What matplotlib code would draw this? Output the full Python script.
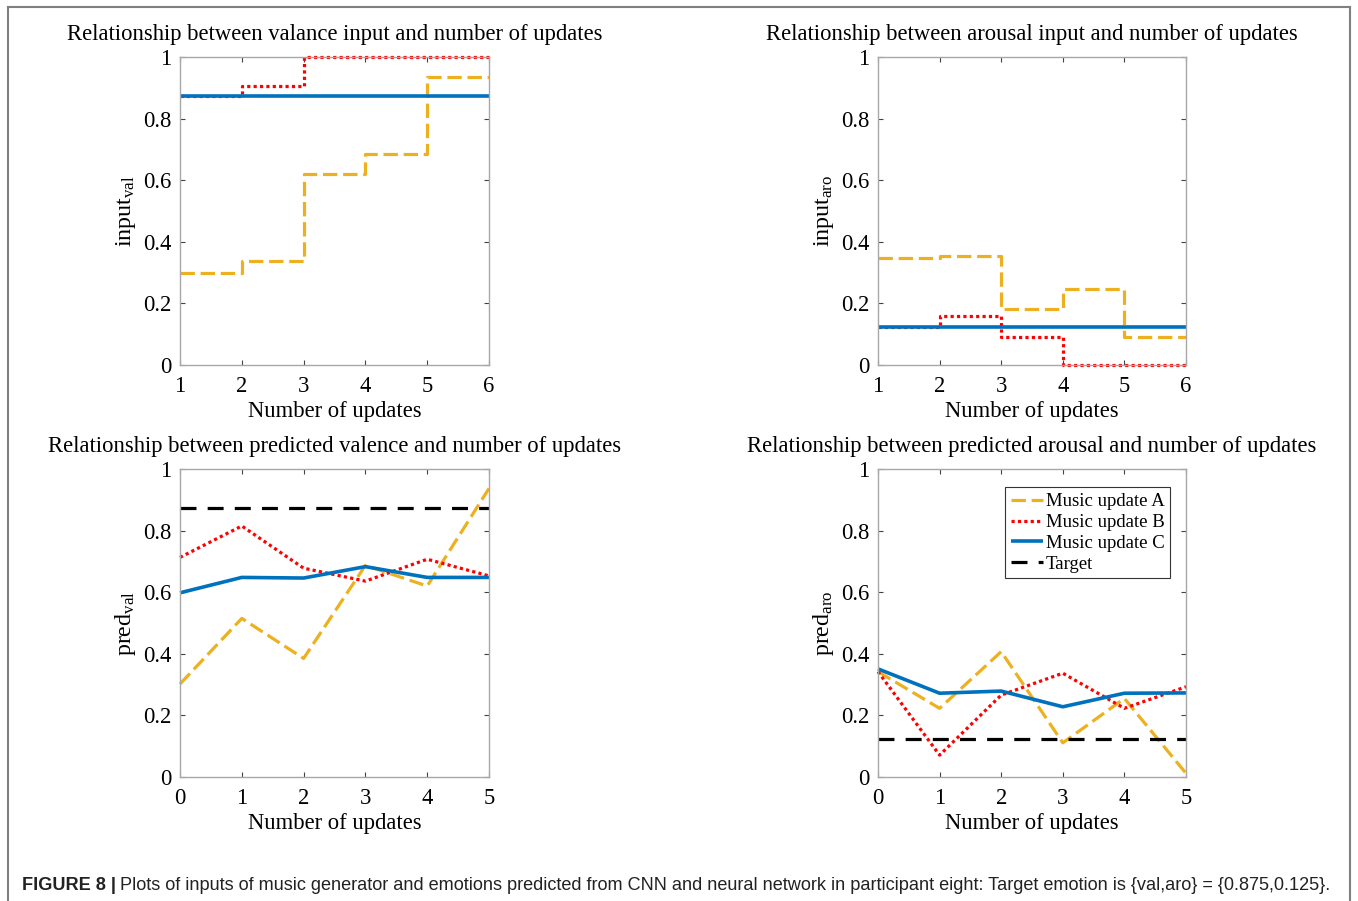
import numpy as np
import matplotlib
matplotlib.use("Agg")
import matplotlib.pyplot as plt
from matplotlib.lines import Line2D

plt.rcParams['font.family'] = ['Liberation Serif', 'DejaVu Serif']
plt.rcParams['mathtext.fontset'] = 'custom'
plt.rcParams['mathtext.rm'] = 'Liberation Serif'
plt.rcParams['mathtext.it'] = 'Liberation Serif:italic'

# inputs of the music generator, one value per update (stairs)
steps = [1, 2, 3, 4, 5, 6]
val_in_a = [0.300, 0.339, 0.619, 0.685, 0.936, 0.936]
val_in_b = [0.875, 0.907, 1.000, 1.000, 1.000, 1.000]
val_in_c = [0.875, 0.875, 0.875, 0.875, 0.875, 0.875]
aro_in_a = [0.346, 0.355, 0.181, 0.247, 0.092, 0.092]
aro_in_b = [0.125, 0.159, 0.092, 0.000, 0.000, 0.000]
aro_in_c = [0.125, 0.125, 0.125, 0.125, 0.125, 0.125]

# predicted emotions after each update
updates = [0, 1, 2, 3, 4, 5]
val_pred_a = [0.302, 0.515, 0.385, 0.687, 0.620, 0.937]
val_pred_b = [0.713, 0.815, 0.678, 0.636, 0.707, 0.653]
val_pred_c = [0.598, 0.648, 0.646, 0.683, 0.648, 0.648]
aro_pred_a = [0.342, 0.223, 0.407, 0.111, 0.255, 0.012]
aro_pred_b = [0.342, 0.071, 0.266, 0.337, 0.223, 0.293]
aro_pred_c = [0.351, 0.272, 0.279, 0.228, 0.272, 0.273]
target_val = 0.875
target_aro = 0.125

labels = ['Music update A', 'Music update B', 'Music update C', 'Target']

col_a = '#EDB120'
col_b = '#FF0000'
col_c = '#0072BD'
lw = 2.3
sty_a = dict(color=col_a, lw=lw, dashes=(4.5, 1.8), clip_on=False)
sty_b = dict(color=col_b, lw=lw, linestyle=(0, (1, 1)), clip_on=False)
sty_c = dict(color=col_c, lw=lw + 0.3, linestyle='-', solid_capstyle='butt', clip_on=False)
sty_t = dict(color='black', lw=lw, dashes=(5, 3.5))

fs = 16.3

fig = plt.figure(figsize=(13.58, 9.01), dpi=100)

W, H = 1358, 901
def place(x0, x1, ytop, ybot):
    return fig.add_axes([x0 / W, 1 - ybot / H, (x1 - x0) / W, (ybot - ytop) / H])

ax1 = place(180, 489, 57, 365)
ax2 = place(878, 1186, 57, 365)
ax3 = place(180, 489, 469, 777)
ax4 = place(878, 1186, 469, 777)

def style(ax, xticks):
    ax.set_ylim(0, 1)
    ax.set_xlim(xticks[0], xticks[-1])
    ax.set_xticks(xticks)
    ax.set_yticks([0, 0.2, 0.4, 0.6, 0.8, 1])
    ax.set_yticklabels(['0', '0.2', '0.4', '0.6', '0.8', '1'])
    ax.tick_params(direction='in', top=True, right=True, length=3.5,
                   width=0.8, color='#444444', labelsize=fs)
    ax.tick_params(axis='x', pad=8)
    ax.tick_params(axis='y', pad=6)
    for s in ax.spines.values():
        s.set_color('#a8a8a8')
        s.set_linewidth(1.0)
    ax.set_xlabel('Number of updates', fontsize=fs, labelpad=3)

# valence input
ax1.step(steps, val_in_a, where='post', **sty_a)
ax1.step(steps, val_in_b, where='post', **sty_b)
ax1.step(steps, val_in_c, where='post', **sty_c)
style(ax1, steps)
ax1.set_title('Relationship between valance input and number of updates', fontsize=fs, pad=12)
ax1.set_ylabel(r'$\mathrm{input}_{\mathrm{val}}$', fontsize=fs + 1)

# arousal input
ax2.step(steps, aro_in_a, where='post', **sty_a)
ax2.step(steps, aro_in_b, where='post', **sty_b)
ax2.step(steps, aro_in_c, where='post', **sty_c)
style(ax2, steps)
ax2.set_title('Relationship between arousal input and number of updates', fontsize=fs, pad=12)
ax2.set_ylabel(r'$\mathrm{input}_{\mathrm{aro}}$', fontsize=fs + 1)

# predicted valence
ax3.plot(updates, val_pred_a, **sty_a)
ax3.plot(updates, val_pred_b, **sty_b)
ax3.plot(updates, val_pred_c, **sty_c)
ax3.axhline(target_val, **sty_t)
style(ax3, updates)
ax3.set_title('Relationship between predicted valence and number of updates', fontsize=fs, pad=12)
ax3.set_ylabel(r'$\mathrm{pred}_{\mathrm{val}}$', fontsize=fs + 1)

# predicted arousal
ax4.plot(updates, aro_pred_a, label=labels[0], **sty_a)
ax4.plot(updates, aro_pred_b, label=labels[1], **sty_b)
ax4.plot(updates, aro_pred_c, label=labels[2], **sty_c)
ax4.axhline(target_aro, label=labels[3], **sty_t)
style(ax4, updates)
ax4.set_title('Relationship between predicted arousal and number of updates', fontsize=fs, pad=12)
ax4.set_ylabel(r'$\mathrm{pred}_{\mathrm{aro}}$', fontsize=fs + 1)
leg = ax4.legend(loc='upper right', bbox_to_anchor=(0.948, 0.94), fontsize=13.5,
                 fancybox=False, framealpha=1, edgecolor='#333333',
                 handlelength=1.75, handletextpad=0.12, labelspacing=0.2,
                 borderpad=0.3, borderaxespad=0)
leg.get_frame().set_linewidth(0.8)

# page frame around the panels
for xs, ys in [([8, 8], [H, 7]), ([8, 1350], [7, 7]), ([1350, 1350], [7, H])]:
    fig.add_artist(Line2D([x / W for x in xs], [1 - y / H for y in ys],
                          color='#808080', lw=1.5, transform=fig.transFigure))

# caption
cap_y = 1 - 886 / H
t1 = fig.text(22 / W, cap_y, 'FIGURE 8 |', fontsize=13.1, fontweight='bold',
              family=['Liberation Sans', 'DejaVu Sans'], color='#222222', va='center')
fig.canvas.draw()
bb = t1.get_window_extent()
fig.text((bb.x1 + 4) / W, cap_y,
         'Plots of inputs of music generator and emotions predicted from CNN and neural '
         'network in participant eight: Target emotion is {val,aro} = {0.875,0.125}.',
         fontsize=13.1, family=['Liberation Sans', 'DejaVu Sans'], color='#222222', va='center')

fig.savefig('out.png', dpi=100)
